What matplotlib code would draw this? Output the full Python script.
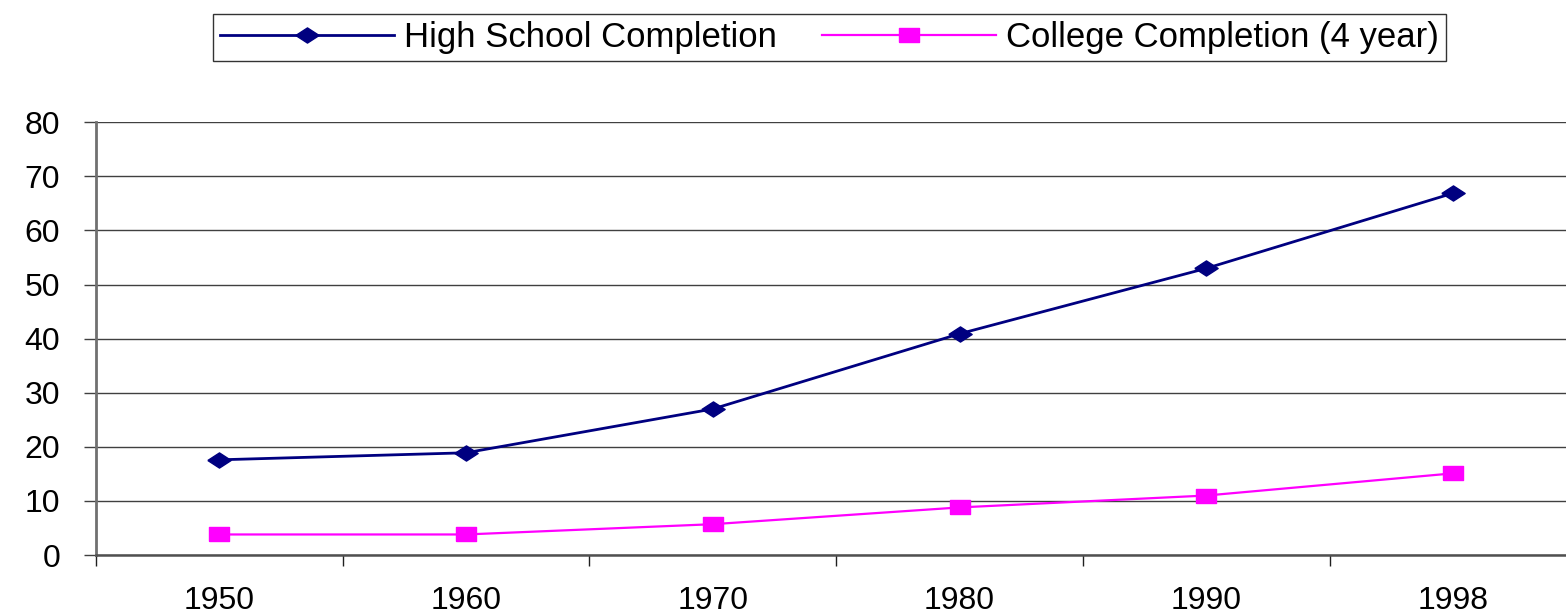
import numpy as np
import matplotlib
matplotlib.use("Agg")
import matplotlib.pyplot as plt

plt.rcParams['font.family'] = ['Liberation Sans', 'DejaVu Sans']

years = ['1950', '1960', '1970', '1980', '1990', '1998']
high_school = [17.6, 18.9, 27.0, 40.9, 53.0, 66.9]
college = [3.8, 3.8, 5.7, 8.8, 11.0, 15.1]

# flattened markers like the old excel chart
diamond = [(-1, 0), (0, 0.65), (1, 0), (0, -0.65), (-1, 0)]
rect = [(-1, -0.68), (1, -0.68), (1, 0.68), (-1, 0.68), (-1, -0.68)]

fig = plt.figure(figsize=(15.66, 6.12), dpi=100)
ax = fig.add_axes([0.0611, 0.0931, 0.9457, 0.7071])

x = np.arange(len(years))
ax.plot(x, high_school, color='#000080', lw=2.0, marker=diamond, ms=16.8,
        label='High School Completion', clip_on=False, zorder=3)
ax.plot(x, college, color='#FF00FF', lw=1.6, marker=rect, ms=14.5,
        label='College Completion (4 year)', clip_on=False, zorder=3)

ax.set_xlim(-0.5, len(years) - 0.5)
ax.set_ylim(0, 80)
ax.set_yticks(np.arange(0, 81, 10))
ax.yaxis.grid(True, color='#404040', lw=1)
ax.set_axisbelow(True)

# category labels centred, tick marks between categories
ax.set_xticks(np.arange(-0.5, len(years), 1))
ax.set_xticklabels([])
ax.set_xticks(x, minor=True)
ax.set_xticklabels(years, minor=True)
ax.tick_params(axis='x', which='major', length=8, width=1, color='#202020', direction='out')
ax.tick_params(axis='x', which='minor', length=0, pad=22, labelsize=23)
ax.tick_params(axis='y', length=8.6, width=1, color='#404040', direction='out',
               pad=17, labelsize=23)

for s in ['top', 'right']:
    ax.spines[s].set_visible(False)
ax.spines['left'].set_color('#707070')
ax.spines['left'].set_linewidth(2)
ax.spines['bottom'].set_color('#505050')
ax.spines['bottom'].set_linewidth(1.8)

leg = fig.legend(loc='center', bbox_to_anchor=(0.5297, 0.938), ncol=2,
                 fontsize=25, frameon=True, fancybox=False, edgecolor='black',
                 handlelength=5.0, handletextpad=0.3, columnspacing=1.3,
                 borderpad=0.2, borderaxespad=0)
leg.get_frame().set_linewidth(1)

fig.savefig('out.png', dpi=100)
